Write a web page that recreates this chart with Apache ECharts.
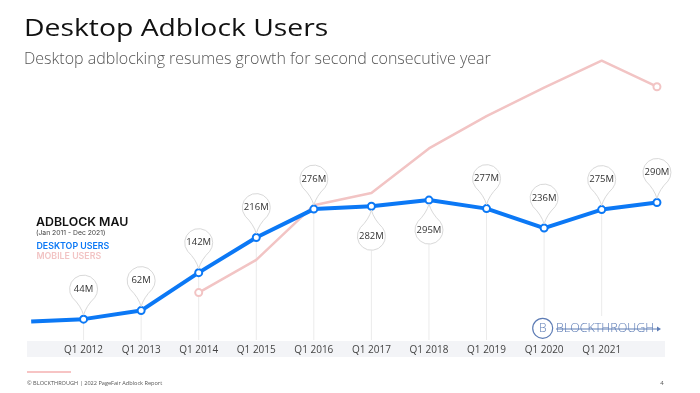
<!DOCTYPE html>
<html>
<head>
<meta charset="utf-8">
<script src="https://cdn.jsdelivr.net/npm/echarts@6/dist/echarts.min.js"></script>
<style>
html,body{margin:0;padding:0;background:#fff;}
#chart{width:700px;height:393px;}
</style>
</head>
<body>
<div id="chart"></div>
<script>
// ---- data ----
const desktopYears = [2011.09, 2012, 2013, 2014, 2015, 2016, 2017, 2018, 2019, 2020, 2021, 2021.96];
const desktopUsers = [39, 44, 62, 142, 216, 276, 282, 295, 277, 236, 275, 290];
const mobileYears  = [2014, 2015, 2016, 2017, 2018, 2019, 2020, 2021, 2021.96];
const mobileUsers  = [100, 169, 284, 310, 404, 472, 532, 589, 534];
const tickYears  = [2012, 2013, 2014, 2015, 2016, 2017, 2018, 2019, 2020, 2021];
const tickLabels = ['Q1 2012', 'Q1 2013', 'Q1 2014', 'Q1 2015', 'Q1 2016', 'Q1 2017', 'Q1 2018', 'Q1 2019', 'Q1 2020', 'Q1 2021'];
// callouts: index into desktop series, label text, side (-1 above, 1 below)
const calloutIndex = [1, 2, 3, 4, 5, 6, 7, 8, 9, 10, 11];
const calloutText  = ['44M', '62M', '142M', '216M', '276M', '282M', '295M', '277M', '236M', '275M', '290M'];
const calloutSide  = [-1, -1, -1, -1, -1, 1, 1, -1, -1, -1, -1];
const guideLine    = [1, 1, 1, 1, 1, 1, 1, 1, 1, 1, 0];

const BLUE = '#0b78f5';
const PINK = '#f2c4c4';
const FONT = '"Open Sans", sans-serif';

const chart = echarts.init(document.getElementById('chart'), null, {renderer: 'canvas'});

const desktopData = desktopYears.map((x, i) => ({
  value: [x, desktopUsers[i]],
  symbol: i === 0 ? 'none' : 'circle'
}));
const mobileData = mobileYears.map((x, i) => ({
  value: [x, mobileUsers[i]],
  symbol: (i === 0 || i === mobileYears.length - 1) ? 'circle' : 'none'
}));
const calloutData = calloutIndex.map((k, i) => [desktopYears[k], desktopUsers[k], calloutSide[i], guideLine[i], calloutText[i]]);

const R = 14, DIST = 30, GAP = 4;

function renderGuide(params, api) {
  if (!api.value(3)) return null;
  const pt = api.coord([api.value(0), api.value(1)]);
  const base = api.coord([api.value(0), 0]);
  const side = api.value(2);
  const y0 = side > 0 ? pt[1] + DIST + R : pt[1];
  return {
    type: 'line',
    shape: {x1: pt[0], y1: y0, x2: pt[0], y2: base[1]},
    style: {stroke: '#ebebeb', lineWidth: 1}
  };
}

function renderPin(params, api) {
  const pt = api.coord([api.value(0), api.value(1)]);
  const s = api.value(2);
  const text = calloutText[params.dataIndex];
  const cx = pt[0], cy = pt[1] + s * DIST;
  const tipY = pt[1] + s * GAP;
  const a = 52 * Math.PI / 180;
  const dx = R * Math.sin(a), dy = R * Math.cos(a);
  const ly = cy - s * dy;
  const sweep = s < 0 ? 1 : 0;
  const ctrlY = cy - s * 17;
  const d = 'M' + (cx - dx) + ' ' + ly +
    ' A' + R + ' ' + R + ' 0 1 ' + sweep + ' ' + (cx + dx) + ' ' + ly +
    ' Q' + (cx + 2.5) + ' ' + ctrlY + ' ' + cx + ' ' + tipY +
    ' Q' + (cx - 2.5) + ' ' + ctrlY + ' ' + (cx - dx) + ' ' + ly + ' Z';
  return {
    type: 'group',
    children: [
      {type: 'path', shape: {pathData: d}, style: {fill: '#fff', stroke: '#d9d9d9', lineWidth: 1}},
      {type: 'text', style: {text: text, x: cx, y: cy, align: 'center', verticalAlign: 'middle',
        font: '9.5px ' + FONT, fill: '#333'}}
    ]
  };
}

const option = {
  backgroundColor: '#fff',
  animation: false,
  grid: {left: 26, right: 35, top: 8, bottom: 53},
  xAxis: {
    type: 'value', min: 2011, max: 2022.1, interval: 1,
    axisLine: {show: false}, axisTick: {show: false}, splitLine: {show: false},
    axisLabel: {
      showMinLabel: true, showMaxLabel: true,
      margin: 5, fontFamily: 'Open Sans', fontSize: 10, color: '#444',
      formatter: function (v) {
        const i = tickYears.indexOf(Math.round(v));
        return (i >= 0 && Math.abs(v - tickYears[i]) < 0.01) ? tickLabels[i] : '';
      }
    }
  },
  yAxis: {type: 'value', min: 0, max: 700, show: false},
  graphic: [
    {type: 'rect', z: -1, shape: {x: 27, y: 341, width: 638, height: 16}, style: {fill: '#f3f4f7'}},
    {type: 'text', x: 24, y: 29, scaleX: 1.18, style: {text: 'Desktop Adblock Users', x: 0, y: 0,
      verticalAlign: 'middle', font: '400 24px ' + FONT, fill: '#111'}},
    {type: 'text', x: 24, y: 59, style: {text: 'Desktop adblocking resumes growth for second consecutive year',
      verticalAlign: 'middle', font: '300 16px ' + FONT, fill: '#555'}},
    {type: 'text', x: 36, y: 222, scaleX: 1.03, style: {text: 'ADBLOCK MAU', verticalAlign: 'middle',
      font: '600 12px Inter, sans-serif', fill: '#111'}},
    {type: 'text', x: 36, y: 232.5, style: {text: '(Jan 2011 - Dec 2021)', verticalAlign: 'middle',
      font: '6.8px Inter, sans-serif', fill: '#444'}},
    {type: 'text', x: 36.5, y: 246.5, style: {text: 'DESKTOP USERS', verticalAlign: 'middle',
      font: '600 8.8px Inter, sans-serif', fill: BLUE}},
    {type: 'text', x: 36.5, y: 256, style: {text: 'MOBILE USERS', verticalAlign: 'middle',
      font: '600 8.8px Inter, sans-serif', fill: PINK}},
    // logo
    {type: 'rect', z: 50, shape: {x: 528, y: 316, width: 137, height: 24}, style: {fill: '#fff'}},
    {type: 'circle', z: 51, shape: {cx: 542.7, cy: 328.3, r: 10}, style: {fill: '#fff', stroke: '#5d7cb5', lineWidth: 1.2}},
    {type: 'text', z: 52, x: 542.7, y: 328.8, style: {text: 'B', align: 'center', verticalAlign: 'middle',
      font: '300 12px ' + FONT, fill: '#5d7cb5'}},
    {type: 'text', z: 52, x: 556, y: 328.5, style: {text: 'BLOCKTHROUGH', verticalAlign: 'middle',
      font: '300 12.5px ' + FONT, fill: '#5d7cb5'}},
    {type: 'line', z: 52, shape: {x1: 556, y1: 329, x2: 658, y2: 329}, style: {stroke: '#5d7cb5', lineWidth: 1}},
    {type: 'polygon', z: 52, shape: {points: [[657, 326.5], [661, 329], [657, 331.5]]}, style: {fill: '#5d7cb5'}},
    // footer
    {type: 'line', shape: {x1: 27, y1: 372, x2: 71, y2: 372}, style: {stroke: '#f08a8a', lineWidth: 1.2}},
    {type: 'text', x: 27, y: 383, style: {text: '\u00a9 BLOCKTHROUGH | 2022 PageFair Adblock Report', verticalAlign: 'middle',
      font: '5.6px ' + FONT, fill: '#555'}},
    {type: 'text', x: 662, y: 383, style: {text: '4', align: 'center', verticalAlign: 'middle',
      font: '6px ' + FONT, fill: '#555'}}
  ],
  series: [
    {type: 'custom', name: 'guides', z: 1, renderItem: renderGuide, data: calloutData, silent: true},
    {
      type: 'line', name: 'Mobile users', z: 2, data: mobileData,
      symbolSize: 7, showAllSymbol: true,
      lineStyle: {color: PINK, width: 2.5},
      itemStyle: {color: '#fff', borderColor: PINK, borderWidth: 2}
    },
    {
      type: 'line', name: 'Desktop users', z: 3, data: desktopData,
      symbolSize: 7, showAllSymbol: true,
      lineStyle: {color: BLUE, width: 4},
      itemStyle: {color: '#fff', borderColor: BLUE, borderWidth: 2}
    },
    {type: 'custom', name: 'callouts', z: 4, renderItem: renderPin, data: calloutData, silent: true}
  ]
};
chart.setOption(option);
</script>
</body>
</html>
